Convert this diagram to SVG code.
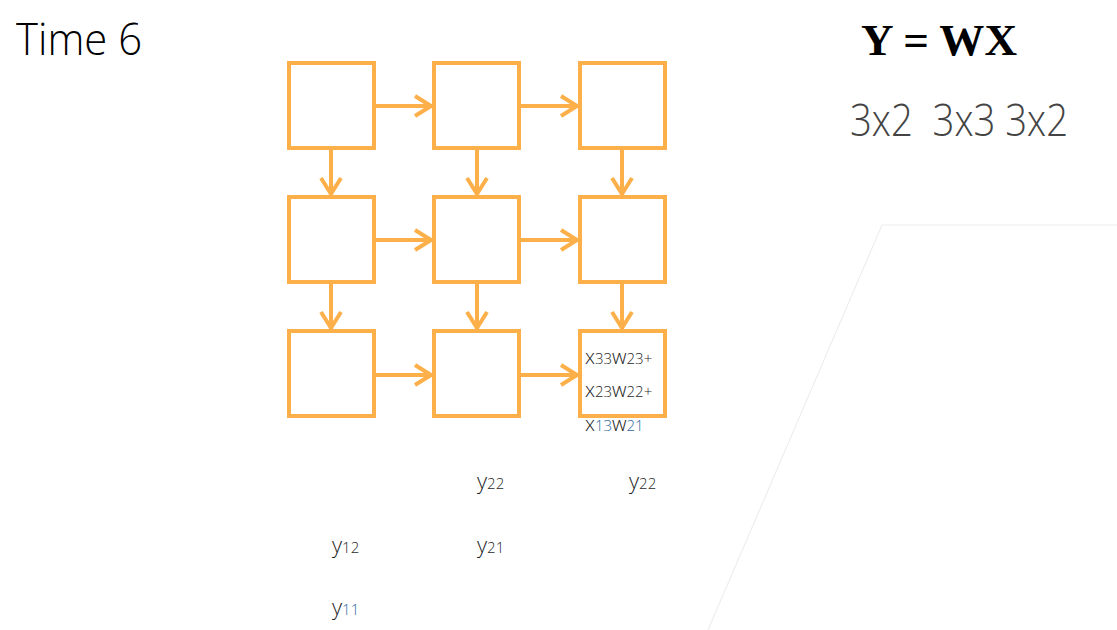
<svg xmlns="http://www.w3.org/2000/svg" width="1117" height="630" viewBox="0 0 1117 630">
<defs>
<style>
.box{fill:#fff;stroke:#FDB04A;stroke-width:4}
.con{stroke:#FDB04A;stroke-width:4;fill:none}
.lbl{font-family:"Open Sans","Liberation Sans",sans-serif;font-weight:300;fill:#1a1a1a}
.sub{font-size:15px;fill:#2a2a2a}
.blue{fill:#2f6a9e}
.big{font-family:"Open Sans","Liberation Sans",sans-serif;font-weight:300}
</style>
<marker id="ah" viewBox="-20 -13 22 26" refX="0" refY="0" markerWidth="22" markerHeight="26" markerUnits="userSpaceOnUse" orient="auto">
<path d="M-17,-10 L-1,0 L-17,10" fill="none" stroke="#FDB04A" stroke-width="4"/>
</marker>
</defs>
<rect width="1117" height="630" fill="#fff"/>
<path d="M708,630 L882,225 L1117,225" fill="none" stroke="#eeeeee" stroke-width="1.2"/>
<text class="big" x="16" y="55" font-size="44" fill="#000" textLength="126" lengthAdjust="spacingAndGlyphs">Time 6</text>
<text x="861" y="55" font-family="'Liberation Serif',serif" font-weight="bold" font-size="44" fill="#000" textLength="156" lengthAdjust="spacingAndGlyphs">Y = WX</text>
<text class="big" x="850" y="136" font-size="44" fill="#444" textLength="218" lengthAdjust="spacingAndGlyphs" xml:space="preserve">3x2  3x3 3x2</text>
<g id="connectors">
<line class="con" x1="374" y1="106" x2="432" y2="106" marker-end="url(#ah)"/>
<line class="con" x1="519" y1="106" x2="578" y2="106" marker-end="url(#ah)"/>
<line class="con" x1="374" y1="240" x2="432" y2="240" marker-end="url(#ah)"/>
<line class="con" x1="519" y1="240" x2="578" y2="240" marker-end="url(#ah)"/>
<line class="con" x1="374" y1="375" x2="432" y2="375" marker-end="url(#ah)"/>
<line class="con" x1="519" y1="375" x2="578" y2="375" marker-end="url(#ah)"/>
<line class="con" x1="331" y1="148" x2="331" y2="195" marker-end="url(#ah)"/>
<line class="con" x1="477" y1="148" x2="477" y2="195" marker-end="url(#ah)"/>
<line class="con" x1="622" y1="148" x2="622" y2="195" marker-end="url(#ah)"/>
<line class="con" x1="331" y1="282" x2="331" y2="329" marker-end="url(#ah)"/>
<line class="con" x1="477" y1="282" x2="477" y2="329" marker-end="url(#ah)"/>
<line class="con" x1="622" y1="282" x2="622" y2="329" marker-end="url(#ah)"/>
</g>
<g id="n11"><rect class="box" x="289" y="63" width="85" height="85"/></g>
<g id="n12"><rect class="box" x="434" y="63" width="85" height="85"/></g>
<g id="n13"><rect class="box" x="580" y="63" width="85" height="85"/></g>
<g id="n21"><rect class="box" x="289" y="197" width="85" height="85"/></g>
<g id="n22"><rect class="box" x="434" y="197" width="85" height="85"/></g>
<g id="n23"><rect class="box" x="580" y="197" width="85" height="85"/></g>
<g id="n31"><rect class="box" x="289" y="331" width="85" height="85"/></g>
<g id="n32"><rect class="box" x="434" y="331" width="85" height="85"/></g>
<g id="n33"><rect class="box" x="580" y="331" width="85" height="85"/>
<text class="lbl" x="585" y="364" font-size="20">x<tspan class="sub">33</tspan>w<tspan class="sub">23+</tspan></text>
<text class="lbl" x="585" y="397" font-size="20">x<tspan class="sub">23</tspan>w<tspan class="sub">22+</tspan></text>
<text class="lbl" x="585" y="431" font-size="20">x<tspan class="sub blue">13</tspan>w<tspan class="sub blue">21</tspan></text>
</g>
<g id="outputs">
<text class="lbl" x="477" y="489" font-size="22">y<tspan class="sub">22</tspan></text>
<text class="lbl" x="629" y="489" font-size="22">y<tspan class="sub">22</tspan></text>
<text class="lbl" x="332" y="553" font-size="22">y<tspan class="sub">12</tspan></text>
<text class="lbl" x="477" y="553" font-size="22">y<tspan class="sub">21</tspan></text>
<text class="lbl" x="332" y="615" font-size="22">y<tspan class="sub blue">11</tspan></text>
</g>
</svg>
